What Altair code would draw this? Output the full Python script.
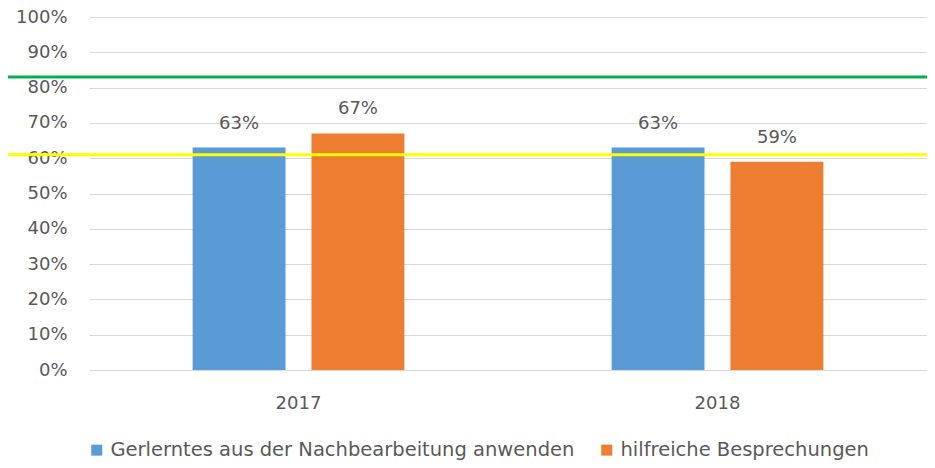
import altair as alt
import pandas as pd

years = ["2017", "2018"]
series = ["Gerlerntes aus der Nachbearbeitung anwenden", "hilfreiche Besprechungen"]
values_a = [0.63, 0.63]
values_b = [0.67, 0.59]
ref_green = [0.83]
ref_yellow = [0.61]
y_ticks = [0, 0.1, 0.2, 0.3, 0.4, 0.5, 0.6, 0.7, 0.8, 0.9, 1.0]

rows = []
for i, y in enumerate(years):
    rows.append({"year": y, "series": series[0], "value": values_a[i]})
    rows.append({"year": y, "series": series[1], "value": values_b[i]})
df = pd.DataFrame(rows)

FONT = "DejaVu Sans"
GREY = "#595959"
W, H = 838, 353

x_enc = alt.X("year:N", title=None,
              scale=alt.Scale(paddingInner=0, paddingOuter=0),
              axis=alt.Axis(labelAngle=0, labelFontSize=18, labelColor=GREY, labelFont=FONT,
                            ticks=False, tickSize=0, domain=False, grid=False, labelPadding=24))
xo_enc = alt.XOffset("series:N", sort=series,
                     scale=alt.Scale(paddingInner=0.2185, paddingOuter=0.872))

y_scale = alt.Scale(domain=[0, 1], nice=False)
y_axis = alt.Axis(values=y_ticks, format=".0%", labelFontSize=18, labelColor=GREY,
                  labelFont=FONT, ticks=False, tickSize=0, domain=False,
                  labelOverlap=False, labelFlush=False, tickCount=20,
                  gridColor="#d9d9d9", gridWidth=1, labelPadding=22)

bars = alt.Chart(df).mark_bar().encode(
    x=x_enc,
    xOffset=xo_enc,
    y=alt.Y("value:Q", title=None, scale=y_scale, axis=y_axis),
    color=alt.Color("series:N", sort=series,
                    scale=alt.Scale(domain=series, range=["#5b9bd5", "#ed7d31"]),
                    legend=alt.Legend(title=None, orient="none", direction="horizontal",
                                      legendX=-2, legendY=423, symbolType="square",
                                      symbolSize=121, symbolStrokeWidth=0,
                                      labelFontSize=19.5, labelColor=GREY, labelFont=FONT,
                                      labelLimit=0,
                                      labelOffset=4, columnPadding=22, padding=0)),
)

labels = alt.Chart(df).mark_text(baseline="middle", dy=-24, fontSize=18, font=FONT, color=GREY).encode(
    x=x_enc,
    xOffset=xo_enc,
    y=alt.Y("value:Q", title=None, scale=y_scale, axis=y_axis),
    text=alt.Text("value:Q", format=".0%"),
)

green = alt.Chart(pd.DataFrame({"value": ref_green})).mark_rule(color="#00b050", strokeWidth=3).encode(
    y=alt.Y("value:Q", title=None, scale=y_scale, axis=y_axis), x=alt.value(-90), x2=alt.value(W + 20))
yellow = alt.Chart(pd.DataFrame({"value": ref_yellow})).mark_rule(color="#ffff00", strokeWidth=3).encode(
    y=alt.Y("value:Q", title=None, scale=y_scale, axis=y_axis), x=alt.value(-90), x2=alt.value(W + 20))

chart = alt.layer(bars, labels, green, yellow).properties(
    width=W, height=H,
    autosize=alt.AutoSizeParams(type="none"),
    padding={"left": 81, "top": 9, "right": 0, "bottom": 90},
).configure(font=FONT).configure_view(stroke=None)

chart.save("out.html", embed_options={"renderer": "svg", "actions": False})
